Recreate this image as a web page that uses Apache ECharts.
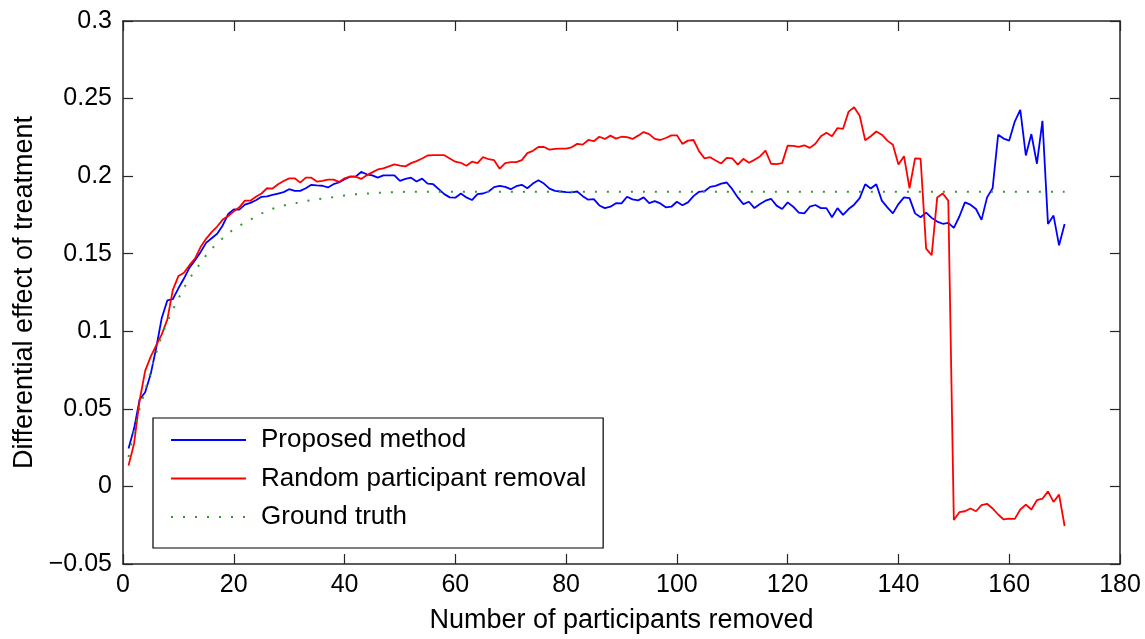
<!DOCTYPE html>
<html>
<head>
<meta charset="utf-8">
<script src="https://cdn.jsdelivr.net/npm/echarts@6/dist/echarts.min.js"></script>
<style>
html,body{margin:0;padding:0;background:#fff;}
#chart{width:1145px;height:639px;}
</style>
</head>
<body>
<div id="chart"></div>
<script>
const xValues = [1,2,3,4,5,6,7,8,9,10,11,12,13,14,15,16,17,18,19,20,21,22,23,24,25,26,27,28,29,30,31,32,33,34,35,36,37,38,39,40,41,42,43,44,45,46,47,48,49,50,51,52,53,54,55,56,57,58,59,60,61,62,63,64,65,66,67,68,69,70,71,72,73,74,75,76,77,78,79,80,81,82,83,84,85,86,87,88,89,90,91,92,93,94,95,96,97,98,99,100,101,102,103,104,105,106,107,108,109,110,111,112,113,114,115,116,117,118,119,120,121,122,123,124,125,126,127,128,129,130,131,132,133,134,135,136,137,138,139,140,141,142,143,144,145,146,147,148,149,150,151,152,153,154,155,156,157,158,159,160,161,162,163,164,165,166,167,168,169,170];

const proposed = [0.0245,0.0373,0.056,0.0607,0.0724,0.0894,0.1086,0.1199,0.1207,0.1277,
0.134,0.141,0.1458,0.151,0.157,0.160,0.1629,0.1682,0.1756,0.1786,
0.1784,0.1816,0.1828,0.1845,0.1867,0.187,0.1879,0.1888,0.1897,0.1916,
0.1905,0.1905,0.1922,0.1944,0.194,0.1938,0.1927,0.1948,0.1959,0.198,
0.1997,0.1997,0.2027,0.2012,0.2005,0.199,0.2005,0.2005,0.2005,0.197,
0.1982,0.199,0.1965,0.1984,0.1952,0.1948,0.1916,0.1884,0.1863,0.1861,
0.1888,0.1863,0.1846,0.1884,0.1888,0.1901,0.1929,0.1937,0.1931,0.1916,
0.1935,0.1944,0.1922,0.1952,0.1973,0.1952,0.192,0.1905,0.1901,0.1897,
0.1895,0.1901,0.1871,0.1848,0.1852,0.1811,0.1794,0.1803,0.1826,0.1824,
0.1867,0.185,0.1844,0.1863,0.1826,0.1839,0.1824,0.1799,0.1803,0.1835,
0.1812,0.1831,0.1871,0.1899,0.1903,0.1931,0.1937,0.1952,0.1959,0.1916,
0.1863,0.182,0.1835,0.1794,0.182,0.1842,0.1854,0.181,0.1788,0.1831,
0.1803,0.1765,0.176,0.1803,0.1814,0.1794,0.1794,0.1735,0.1794,0.175,
0.1788,0.1816,0.1858,0.1948,0.192,0.1948,0.1842,0.1799,0.176,0.182,
0.1863,0.1858,0.176,0.1735,0.1765,0.1731,0.1707,0.1693,0.1699,0.1667,
0.174,0.1831,0.1816,0.1788,0.1718,0.1863,0.1922,0.2267,0.2242,0.2229,
0.2352,0.2427,0.2133,0.2271,0.208,0.2356,0.1692,0.1746,0.1554,0.1692];

const randomRemoval = [0.0134,0.0277,0.0554,0.0745,0.0837,0.0909,0.098,0.1075,0.1267,0.1356,
0.1377,0.1426,0.1469,0.1543,0.1596,0.1639,0.1675,0.172,0.1743,0.1773,
0.1799,0.1842,0.1842,0.1867,0.1888,0.1922,0.192,0.1948,0.1969,0.1986,
0.1986,0.1958,0.199,0.199,0.1965,0.1969,0.1978,0.1978,0.1963,0.1986,
0.1997,0.1997,0.1982,0.2005,0.2024,0.2043,0.205,0.2063,0.2076,0.2068,
0.2063,0.2084,0.2097,0.2114,0.2133,0.2135,0.2135,0.2135,0.2114,0.2093,
0.2086,0.2067,0.2093,0.2084,0.2122,0.2109,0.2103,0.2048,0.2084,0.209,
0.209,0.2103,0.2148,0.2163,0.2188,0.2188,0.2171,0.2176,0.2178,0.2178,
0.2186,0.2208,0.2203,0.2233,0.2225,0.2254,0.224,0.2261,0.2242,0.2254,
0.2252,0.224,0.2261,0.2284,0.2271,0.224,0.2233,0.2246,0.2263,0.2263,
0.2208,0.2229,0.2233,0.2161,0.2114,0.2122,0.2101,0.2082,0.2118,0.2114,
0.2074,0.2112,0.2086,0.2105,0.2127,0.2165,0.208,0.2078,0.2084,0.2197,
0.2195,0.2189,0.2199,0.2182,0.2209,0.2257,0.228,0.2257,0.231,0.2305,
0.2416,0.2444,0.239,0.2231,0.2257,0.2288,0.2267,0.2229,0.2203,0.2075,
0.2129,0.1922,0.2114,0.2112,0.1533,0.149,0.1863,0.1888,0.1842,-0.0217,
-0.0166,-0.016,-0.0142,-0.016,-0.0121,-0.0112,-0.0142,-0.0181,-0.0213,-0.0207,
-0.0209,-0.0149,-0.0117,-0.0149,-0.0089,-0.0079,-0.0032,-0.01,-0.0053,-0.0255];

const truthX = [1,2,3,4,5,6,7,8,9,10,11,12,13,14,15,16,17,18,19,20,21,22,23,24,25,26,27,28,29,30,31,32,33,34,35,36,37,38,39,40,41,42,43,44,45,46,47,48,49,50,51,52,53,54,55,56,60,170];
const truthY = [0.019,0.036,0.05,0.062,0.074,0.086,0.097,0.106,0.114,0.121,
0.128,0.134,0.139,0.144,0.149,0.153,0.157,0.160,0.163,0.166,
0.168,0.170,0.172,0.174,0.176,0.177,0.179,0.180,0.181,0.182,
0.1825,0.1832,0.184,0.1845,0.185,0.1856,0.186,0.1865,0.187,0.1875,
0.188,0.1883,0.1886,0.1888,0.189,0.1892,0.1894,0.1896,0.1897,0.1898,
0.1899,0.1899,0.1899,0.1899,0.1899,0.19,0.19,0.19];

const seriesNames = ['Proposed method','Random participant removal','Ground truth'];
const xTickLabels = ['0','20','40','60','80','100','120','140','160','180'];
const yTickLabels = {'-0.05':'\u22120.05','0':'0','0.05':'0.05','0.1':'0.1','0.15':'0.15','0.2':'0.2','0.25':'0.25','0.3':'0.3'};

const FONT = 'Liberation Sans, Arial, sans-serif';
const AX = '#262626';

function pairs(xs, ys){ return ys.map((v,i)=>[xs[i], v]); }

const chart = echarts.init(document.getElementById('chart'));
const hiddenAxisCommon = {
  axisLine:{show:true, onZero:false, lineStyle:{color:AX, width:1.5}},
  axisTick:{show:true, inside:true, length:10, lineStyle:{color:AX, width:1.2}},
  axisLabel:{show:false}, splitLine:{show:false}
};
chart.setOption({
  animation:false,
  backgroundColor:'#fff',
  grid:{left:123, right:25, top:21, bottom:70, containLabel:false},
  xAxis:[{
    type:'value', min:0, max:180, interval:20, position:'bottom',
    name:'Number of participants removed', nameLocation:'middle', nameGap:43,
    nameTextStyle:{fontFamily:FONT, fontSize:27, color:'#000'},
    axisLine:{show:true, onZero:false, lineStyle:{color:AX, width:1.5}},
    axisTick:{show:true, inside:true, length:10, lineStyle:{color:AX, width:1.2}},
    axisLabel:{fontFamily:FONT, fontSize:25, color:'#000', margin:9,
      formatter:(v)=>xTickLabels[Math.round(v/20)]},
    splitLine:{show:false}
  },{
    type:'value', min:0, max:180, interval:20, position:'top', ...hiddenAxisCommon
  }],
  yAxis:[{
    type:'value', min:-0.05, max:0.3, interval:0.05, position:'left',
    name:'Differential effect of treatment', nameLocation:'middle', nameGap:82,
    nameTextStyle:{fontFamily:FONT, fontSize:27, color:'#000'},
    axisLine:{show:true, onZero:false, lineStyle:{color:AX, width:1.5}},
    axisTick:{show:true, inside:true, length:10, lineStyle:{color:AX, width:1.2}},
    axisLabel:{fontFamily:FONT, fontSize:25, color:'#000', margin:11,
      formatter:(v)=>{const k=String(Math.round(v*100)/100); return yTickLabels[k]!==undefined?yTickLabels[k]:k;}},
    splitLine:{show:false}
  },{
    type:'value', min:-0.05, max:0.3, interval:0.05, position:'right', ...hiddenAxisCommon
  }],
  legend:{
    orient:'vertical', left:153, top:418,
    backgroundColor:'#fff', borderColor:'#000', borderWidth:1.2,
    padding:[9,17,18,17], itemGap:12.5, itemWidth:75, itemHeight:26,
    itemStyle:{opacity:0},
    textStyle:{fontFamily:FONT, fontSize:26, color:'#000', padding:[0,0,0,10]},
    data:seriesNames
  },
  series:[
    {name:seriesNames[0], type:'line', symbol:'none', data:pairs(xValues, proposed),
      lineStyle:{color:'#0000ff', width:1.8}, itemStyle:{color:'#0000ff'}},
    {name:seriesNames[1], type:'line', symbol:'none', data:pairs(xValues, randomRemoval),
      lineStyle:{color:'#ff0000', width:1.8}, itemStyle:{color:'#ff0000'}},
    {name:seriesNames[2], type:'line', symbol:'none', data:pairs(truthX, truthY),
      lineStyle:{color:'#2e9a2e', width:2, type:[2,10]}, itemStyle:{color:'#2e9a2e'}}
  ]
});
</script>
</body>
</html>
